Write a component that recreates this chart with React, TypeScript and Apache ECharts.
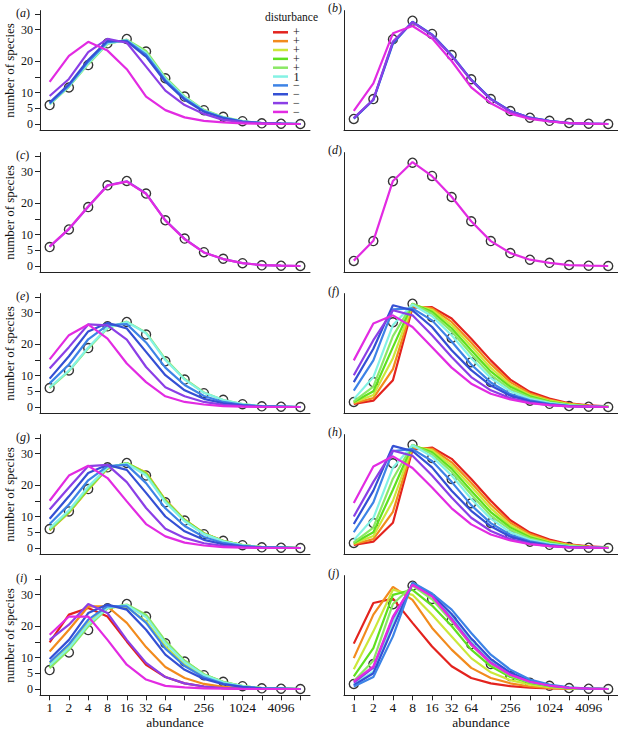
import React, { useEffect, useRef } from "react";
import * as echarts from "echarts";

const abundance = ["1", "2", "4", "8", "16", "32", "64", "128", "256", "512", "1024", "2048", "4096", "8192"];
const xLabelShown = ["1", "2", "4", "8", "16", "32", "64", "256", "1024", "4096"];
const yTickValues = [0, 5, 10, 15, 20, 30, 35];
const yLabelValues = [0, 5, 10, 20, 30];
const seriesKeys = ["c1", "c2", "c3", "c4", "c5", "c6", "c7", "c8", "c9", "c10"];
const legendLabels = ["+", "+", "+", "+", "+", "1", "\u2212", "\u2212", "\u2212", "\u2212"];
const lineColors = ["#e3231e", "#f28b1d", "#cbe83a", "#5fe01e", "#8be865", "#84f2e4", "#3d83e6", "#3450d4", "#8b3fe6", "#e22be2"];
const panelLetters = ["a", "b", "c", "d", "e", "f", "g", "h", "i", "j"];

// observed species abundance distributions (circles)
const obsLeft = [6.0, 11.6, 18.7, 25.6, 27.0, 23.0, 14.5, 8.7, 4.4, 2.3, 0.9, 0.2, 0.1, 0.0];
const obsRight = [1.6, 7.9, 26.9, 32.8, 28.6, 21.9, 14.2, 7.9, 4.1, 2.0, 1.0, 0.3, 0.1, 0.0];

const panelA = {
  c5: [6.2, 11.8, 19.0, 25.4, 26.8, 23.2, 14.8, 8.8, 4.5, 2.2, 0.9, 0.3, 0.1, 0],
  c6: [6.3, 12.0, 19.3, 25.6, 26.6, 22.6, 14.4, 8.5, 4.3, 2.1, 0.9, 0.3, 0.1, 0],
  c7: [6.5, 12.2, 19.8, 26.0, 26.5, 22.0, 13.9, 8.1, 4.1, 2.0, 0.8, 0.3, 0.1, 0],
  c8: [6.8, 12.6, 20.3, 26.4, 26.2, 21.4, 13.4, 7.7, 3.9, 1.9, 0.8, 0.3, 0.1, 0],
  c9: [8.9, 14.3, 22.8, 27.0, 25.8, 18.2, 10.6, 6.0, 3.2, 1.3, 0.6, 0.2, 0.1, 0],
  c10: [13.4, 21.6, 26.1, 23.3, 17.4, 8.7, 4.4, 2.1, 1.0, 0.5, 0.2, 0.1, 0, 0],
};
const panelB = {
  c7: [1.7, 7.6, 25.5, 32.5, 28.4, 21.9, 14.1, 8.0, 4.1, 2.0, 1.0, 0.3, 0.1, 0],
  c8: [1.8, 7.7, 25.8, 32.4, 28.3, 21.7, 14.0, 7.9, 4.1, 2.0, 0.9, 0.3, 0.1, 0],
  c9: [1.9, 7.8, 26.2, 32.3, 28.2, 21.6, 13.9, 7.8, 4.0, 1.9, 0.9, 0.3, 0.1, 0],
  c10: [4.2, 12.9, 28.8, 31.1, 27.2, 20.0, 11.6, 6.6, 3.3, 1.6, 0.8, 0.3, 0.1, 0],
};
const panelC = {
  c9: [6.1, 11.7, 18.8, 25.6, 26.9, 23.0, 14.5, 8.6, 4.3, 2.2, 0.9, 0.3, 0.1, 0],
  c10: [6.2, 11.8, 18.9, 25.5, 26.8, 22.9, 14.4, 8.5, 4.3, 2.2, 0.9, 0.3, 0.1, 0],
};
const panelD = {
  c10: [1.7, 8.0, 27.0, 33.0, 28.5, 22.0, 14.2, 7.9, 4.1, 2.0, 1.0, 0.3, 0.1, 0],
};
const panelE = {
  c5: [6.0, 11.4, 18.6, 25.0, 27.1, 23.6, 15.2, 8.9, 4.6, 2.2, 0.9, 0.3, 0.1, 0],
  c6: [6.2, 11.6, 18.9, 25.2, 27.0, 23.4, 14.9, 8.7, 4.5, 2.2, 0.9, 0.3, 0.1, 0],
  c7: [7.5, 13.5, 21.5, 26.0, 26.3, 20.5, 12.5, 7.0, 3.5, 1.6, 0.7, 0.2, 0.1, 0],
  c8: [9.0, 16.1, 24.0, 26.7, 24.9, 17.5, 10.1, 5.3, 2.6, 1.2, 0.5, 0.2, 0.1, 0],
  c9: [12.2, 19.0, 26.2, 25.9, 21.4, 12.7, 6.3, 3.4, 1.6, 0.7, 0.3, 0.1, 0, 0],
  c10: [15.1, 22.8, 26.2, 21.7, 13.8, 7.9, 3.4, 1.6, 0.8, 0.3, 0.1, 0, 0, 0],
};
const panelF = {
  c1: [1.0, 2.0, 8.5, 31.5, 31.7, 28.1, 21.7, 14.8, 8.7, 4.8, 2.7, 1.2, 0.5, 0.2],
  c2: [1.2, 2.8, 12.0, 32.0, 31.3, 27.0, 20.5, 13.6, 7.9, 4.3, 2.3, 1.0, 0.4, 0.1],
  c3: [1.4, 3.8, 15.5, 32.5, 30.8, 26.0, 19.3, 12.4, 7.1, 3.8, 2.0, 0.9, 0.3, 0.1],
  c4: [1.6, 5.0, 19.0, 32.8, 30.2, 25.0, 18.0, 11.3, 6.4, 3.4, 1.7, 0.7, 0.3, 0.1],
  c5: [1.8, 6.5, 22.5, 32.8, 29.6, 24.0, 16.8, 10.2, 5.7, 3.0, 1.5, 0.6, 0.2, 0.1],
  c6: [2.5, 9.5, 26.0, 32.5, 28.8, 22.8, 15.5, 9.2, 5.0, 2.6, 1.3, 0.5, 0.2, 0],
  c7: [5.2, 14.8, 31.0, 31.3, 27.5, 20.8, 13.5, 7.8, 4.1, 2.1, 1.0, 0.4, 0.1, 0],
  c8: [7.9, 18.5, 32.3, 30.7, 25.4, 18.0, 11.7, 6.8, 3.6, 1.8, 0.8, 0.3, 0.1, 0],
  c9: [10.1, 21.2, 30.7, 29.1, 22.8, 15.9, 9.5, 5.3, 2.8, 1.4, 0.6, 0.2, 0.1, 0],
  c10: [14.8, 26.5, 29.1, 25.4, 19.0, 12.5, 7.4, 4.2, 2.4, 1.2, 0.6, 0.2, 0.1, 0],
};
const panelG = {
  c2: [5.6, 11.2, 18.5, 25.2, 26.9, 24.0, 15.3, 9.0, 4.7, 2.3, 0.9, 0.3, 0.1, 0],
  c3: [5.7, 11.3, 18.6, 25.3, 27.0, 23.8, 15.1, 8.9, 4.6, 2.2, 0.9, 0.3, 0.1, 0],
  c4: [5.8, 11.5, 18.8, 25.4, 27.0, 23.6, 15.0, 8.8, 4.6, 2.2, 0.9, 0.3, 0.1, 0],
  c5: [5.9, 11.6, 19.0, 25.5, 26.9, 23.4, 14.8, 8.7, 4.5, 2.2, 0.9, 0.3, 0.1, 0],
  c6: [6.3, 12.0, 19.5, 25.6, 26.8, 23.0, 14.5, 8.5, 4.4, 2.1, 0.9, 0.3, 0.1, 0],
  c7: [7.6, 13.8, 21.5, 26.0, 26.4, 20.6, 12.6, 7.0, 3.5, 1.6, 0.7, 0.2, 0.1, 0],
  c8: [9.3, 16.4, 23.8, 26.4, 24.8, 17.5, 10.0, 5.3, 2.6, 1.2, 0.5, 0.2, 0.1, 0],
  c9: [12.2, 19.2, 26.0, 26.4, 20.9, 12.7, 6.1, 3.2, 1.5, 0.7, 0.3, 0.1, 0, 0],
  c10: [15.0, 23.0, 26.1, 22.2, 14.8, 7.6, 3.7, 1.7, 0.8, 0.3, 0.1, 0, 0, 0],
};
const panelH = {
  c1: [1.0, 2.0, 8.0, 31.2, 31.9, 28.3, 21.9, 15.0, 8.8, 4.9, 2.7, 1.2, 0.5, 0.2],
  c2: [1.2, 2.8, 11.5, 31.8, 31.5, 27.2, 20.7, 13.8, 8.0, 4.4, 2.3, 1.0, 0.4, 0.1],
  c3: [1.4, 3.8, 15.0, 32.3, 31.0, 26.2, 19.5, 12.6, 7.2, 3.9, 2.0, 0.9, 0.3, 0.1],
  c4: [1.6, 5.0, 18.5, 32.7, 30.4, 25.2, 18.2, 11.4, 6.5, 3.4, 1.7, 0.7, 0.3, 0.1],
  c5: [1.8, 6.5, 22.0, 32.8, 29.8, 24.2, 17.0, 10.3, 5.8, 3.0, 1.5, 0.6, 0.2, 0.1],
  c6: [2.5, 9.5, 25.5, 32.6, 29.0, 23.0, 15.6, 9.3, 5.0, 2.6, 1.3, 0.5, 0.2, 0],
  c7: [5.0, 14.5, 30.8, 31.4, 27.6, 21.0, 13.6, 7.9, 4.2, 2.1, 1.0, 0.4, 0.1, 0],
  c8: [7.6, 18.2, 32.4, 30.8, 25.6, 18.2, 11.8, 6.9, 3.6, 1.8, 0.8, 0.3, 0.1, 0],
  c9: [10.0, 21.0, 30.9, 29.3, 23.0, 16.0, 9.6, 5.4, 2.8, 1.4, 0.6, 0.2, 0.1, 0],
  c10: [14.3, 25.9, 29.1, 25.4, 19.2, 12.6, 7.5, 4.3, 2.4, 1.2, 0.6, 0.2, 0.1, 0],
};
const panelI = {
  c1: [14.8, 23.6, 25.7, 23.0, 15.1, 7.7, 3.8, 1.8, 0.8, 0.3, 0.1, 0, 0, 0],
  c2: [11.9, 18.8, 26.2, 26.2, 21.0, 13.3, 7.0, 3.5, 1.6, 0.7, 0.3, 0.1, 0, 0],
  c3: [8.0, 13.5, 21.0, 26.0, 26.0, 21.5, 13.5, 7.8, 4.0, 1.9, 0.8, 0.3, 0.1, 0],
  c4: [7.0, 12.8, 20.3, 25.8, 26.6, 23.2, 15.0, 8.9, 4.6, 2.2, 0.9, 0.3, 0.1, 0],
  c5: [6.6, 12.4, 19.8, 25.6, 26.8, 23.6, 15.3, 9.0, 4.7, 2.3, 0.9, 0.3, 0.1, 0],
  c6: [7.5, 13.0, 20.5, 25.8, 26.6, 22.8, 14.5, 8.5, 4.4, 2.1, 0.9, 0.3, 0.1, 0],
  c7: [8.5, 14.2, 22.0, 26.3, 26.2, 21.0, 12.8, 7.3, 3.7, 1.7, 0.7, 0.2, 0.1, 0],
  c8: [9.5, 15.6, 24.1, 26.8, 25.2, 18.8, 10.9, 6.1, 3.2, 1.5, 0.7, 0.2, 0.1, 0],
  c9: [15.6, 20.4, 27.0, 24.1, 15.6, 8.3, 3.8, 1.8, 0.8, 0.3, 0.1, 0, 0, 0],
  c10: [17.2, 23.0, 23.0, 15.6, 7.7, 3.0, 1.0, 0.5, 0.2, 0.1, 0, 0, 0, 0],
};
const panelJ = {
  c1: [14.4, 27.3, 28.7, 21.0, 13.5, 7.2, 3.5, 1.8, 0.9, 0.4, 0.2, 0.1, 0, 0],
  c2: [9.8, 23.6, 32.4, 28.3, 19.4, 12.5, 6.7, 3.5, 1.8, 0.8, 0.3, 0.1, 0, 0],
  c3: [6.3, 18.3, 31.5, 29.9, 23.6, 16.7, 9.8, 5.3, 2.8, 1.4, 0.6, 0.2, 0.1, 0],
  c4: [4.0, 13.0, 29.9, 31.5, 26.5, 20.0, 12.5, 7.2, 3.8, 1.9, 0.9, 0.3, 0.1, 0],
  c5: [2.5, 9.0, 27.0, 32.8, 28.5, 21.5, 14.0, 8.0, 4.2, 2.1, 1.0, 0.3, 0.1, 0],
  c6: [1.5, 5.5, 21.0, 33.3, 29.8, 23.0, 15.0, 8.8, 4.8, 2.4, 1.2, 0.4, 0.1, 0],
  c8: [1.2, 5.0, 19.5, 33.5, 30.0, 23.8, 16.0, 9.5, 5.2, 2.6, 1.2, 0.4, 0.1, 0],
  c9: [2.0, 6.8, 22.5, 33.2, 29.5, 22.3, 14.5, 8.4, 4.6, 2.3, 1.1, 0.4, 0.1, 0],
  c7: [0.8, 3.8, 16.7, 33.8, 30.3, 25.2, 17.8, 10.9, 6.1, 3.0, 1.4, 0.5, 0.1, 0],
  c10: [2.4, 7.2, 23.0, 33.1, 29.4, 22.0, 14.1, 8.2, 4.5, 2.3, 1.1, 0.4, 0.1, 0],
};

const panelLines = [panelA, panelB, panelC, panelD, panelE, panelF, panelG, panelH, panelI, panelJ];

const FONT = "'Liberation Serif', 'DejaVu Serif', serif";
const TEXT_COLOR = "#111";
const AXIS_COLOR = "#222";
const rowTops = [10.6, 152.6, 293.6, 434.6, 575.6];
const PLOT_H = 119.7;

function buildOption() {
  const grid: any[] = [];
  const xAxis: any[] = [];
  const yAxis: any[] = [];
  const series: any[] = [];
  const graphic: any[] = [];

  for (let i = 0; i < 10; i++) {
    const row = Math.floor(i / 2);
    const col = i % 2;
    const bottomRow = row === 4;
    grid.push({
      left: col ? 344 : 40,
      width: col ? 274 : 270,
      top: rowTops[row],
      height: PLOT_H,
      containLabel: false,
      outerBoundsMode: "none",
    });
    xAxis.push({
      type: "category",
      gridIndex: i,
      data: abundance,
      boundaryGap: true,
      axisLine: { show: true, onZero: false, lineStyle: { color: AXIS_COLOR, width: 1 } },
      axisTick: { show: bottomRow, alignWithLabel: true, interval: 0, length: 5, lineStyle: { color: AXIS_COLOR } },
      axisLabel: {
        show: bottomRow,
        interval: (_idx: number, val: string) => xLabelShown.includes(val),
        color: TEXT_COLOR,
        fontFamily: FONT,
        fontSize: 13.5,
        margin: 5,
      },
      splitLine: { show: false },
      name: bottomRow ? "abundance" : "",
      nameLocation: "middle",
      nameGap: 19,
      nameTextStyle: { color: TEXT_COLOR, fontFamily: FONT, fontSize: 13.5 },
    });
    yAxis.push({
      type: "value",
      gridIndex: i,
      min: -2,
      max: 36,
      axisLine: { show: true, lineStyle: { color: AXIS_COLOR, width: 1 } },
      axisTick: { show: col === 0, length: 5, customValues: yTickValues, lineStyle: { color: AXIS_COLOR } },
      axisLabel: {
        show: col === 0,
        customValues: yLabelValues,
        color: TEXT_COLOR,
        fontFamily: FONT,
        fontSize: 12,
        margin: 7,
      },
      splitLine: { show: false },
      name: col === 0 ? "number of species" : "",
      nameLocation: "middle",
      nameGap: 24,
      nameTextStyle: { color: TEXT_COLOR, fontFamily: FONT, fontSize: 13 },
    });

    series.push({
      type: "scatter",
      name: "observed",
      xAxisIndex: i,
      yAxisIndex: i,
      data: col ? obsRight : obsLeft,
      symbol: "circle",
      symbolSize: 9,
      itemStyle: { color: "rgba(0,0,0,0)", borderColor: "#000", borderWidth: 1.4 },
      z: 1,
      silent: true,
    });
    const lines: any = panelLines[i];
    Object.keys(lines).forEach((key) => {
      const ci = seriesKeys.indexOf(key);
      series.push({
        type: "line",
        name: key,
        xAxisIndex: i,
        yAxisIndex: i,
        data: lines[key],
        symbol: "none",
        lineStyle: { color: lineColors[ci], width: 2.2 },
        itemStyle: { color: lineColors[ci] },
        z: 2,
        silent: true,
      });
    });

    graphic.push({
      type: "text",
      left: col ? 328 : 16,
      top: col ? rowTops[row] - 9 : rowTops[row] - 4,
      style: {
        text: "({i|" + panelLetters[i] + "})",
        fontFamily: FONT,
        fontSize: 12,
        fill: TEXT_COLOR,
        rich: { i: { fontStyle: "italic", fontFamily: FONT, fontSize: 12, fill: TEXT_COLOR } },
      },
    });
  }

  // legend of panel (a)
  graphic.push({
    type: "text",
    left: 265,
    top: 11,
    style: { text: "disturbance", fontFamily: FONT, fontSize: 11.5, fill: TEXT_COLOR },
  });
  const legendTop = 32.3;
  const legendStep = 8.85;
  seriesKeys.forEach((k, idx) => {
    const y = legendTop + idx * legendStep;
    graphic.push({
      type: "line",
      shape: { x1: 273, y1: y, x2: 288, y2: y },
      style: { stroke: lineColors[idx], lineWidth: 2.5 },
      silent: true,
    });
  });
  graphic.push({
    type: "text",
    x: 296.5,
    y: legendTop - legendStep / 2,
    style: {
      text: legendLabels.join("\n"),
      fontFamily: FONT,
      fontSize: 12,
      lineHeight: legendStep,
      align: "center",
      verticalAlign: "top",
      fill: TEXT_COLOR,
    },
    silent: true,
  });

  return {
    animation: false,
    backgroundColor: "#fff",
    grid,
    xAxis,
    yAxis,
    series,
    graphic,
  };
}

export default function App() {
  const ref = useRef<HTMLDivElement>(null);
  useEffect(() => {
    if (!ref.current) return;
    const chart = echarts.init(ref.current, null, { renderer: "svg" });
    chart.setOption(buildOption() as any);
    return () => chart.dispose();
  }, []);
  return (
    <div
      ref={ref}
      style={{ position: "absolute", left: 0, top: 0, width: 618, height: 730, background: "#fff" }}
    />
  );
}
